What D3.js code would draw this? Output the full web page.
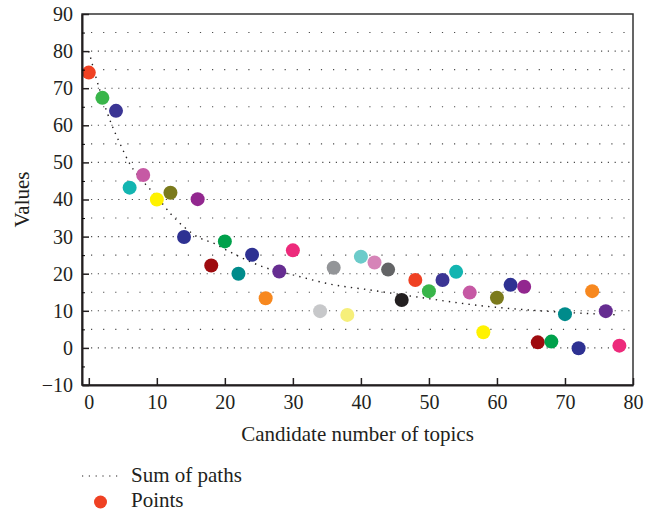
<!DOCTYPE html>
<html>
<head>
<meta charset="utf-8">
<script src="https://cdn.jsdelivr.net/npm/d3@7"></script>
<style>
  body { margin: 0; background: #fff; }
  #chart { width: 656px; height: 515px; }
  svg text { font-family: "Liberation Serif", "Times New Roman", "DejaVu Serif", serif !important; fill: #231f20; }
</style>
</head>
<body>
<div id="chart"></div>
<script>
// Candidate number of topics vs. values (one point per candidate)
const topics = [0, 2, 4, 6, 8, 10, 12, 14, 16, 18, 20, 22, 24, 26, 28, 30,
  34, 36, 38, 40, 42, 44, 46, 48, 50, 52, 54, 56, 58, 60, 62, 64, 66, 68, 70, 72, 74, 76, 78];
const values = [74.2, 67.4, 63.9, 43.2, 46.6, 40.0, 41.8, 29.9, 40.1, 22.2, 28.7, 20.0, 25.1, 13.4, 20.6, 26.3,
  9.9, 21.6, 8.9, 24.6, 23.0, 21.1, 12.9, 18.3, 15.3, 18.3, 20.5, 14.9, 4.2, 13.5, 17.0, 16.5, 1.5, 1.7, 9.1, -0.1, 15.3, 9.9, 0.6];
const pointColors = ["#ef4123", "#39b54a", "#3b3594", "#13b5b1", "#c659a4", "#fff200", "#7b7a1c", "#2e3192",
  "#92278f", "#9e0b0f", "#00a14b", "#008b8b", "#2e3192", "#f7881f", "#662d91", "#ed2a7b",
  "#c7c8ca", "#939598", "#f6ef7a", "#6ccbca", "#d684b8", "#636466", "#231f20",
  "#ef4123", "#39b54a", "#3b3594", "#13b5b1", "#c659a4", "#fff200", "#7b7a1c", "#2e3192",
  "#92278f", "#9e0b0f", "#00a14b", "#008b8b", "#2e3192", "#f7881f", "#662d91", "#ed2a7b"];

// "Sum of paths" dotted curve
const pathX = [0, 1.2, 2.4, 3.4, 4.6, 6, 8.2, 10, 12, 14, 16, 18.5, 20, 26, 30, 36, 41, 48, 58, 68, 78];
const pathY = [80, 72, 65, 60, 55, 49.7, 44.4, 40.8, 36.2, 32.6, 29.9, 28.1, 26.6, 21.6, 19.7, 17, 15.7, 13.8, 11.3, 9.8, 8.9];

const xTicks = [0, 10, 20, 30, 40, 50, 60, 70, 80];
const yTicks = [-10, 0, 10, 20, 30, 40, 50, 60, 70, 80, 90];
const gridVals = d3.range(0, 90, 5);

const W = 656, H = 515;
const M = {t: 14, r: 23, b: 130, l: 82};
const FONT = '"Liberation Serif", "Times New Roman", "DejaVu Serif", serif';

const svg = d3.select('#chart').append('svg').attr('width', W).attr('height', H);

const x = d3.scaleLinear().domain([-1, 80]).range([M.l, W - M.r]);
const y = d3.scaleLinear().domain([-10, 90]).range([H - M.b, M.t]);

// dotted grid
svg.append('g').selectAll('line')
  .data(gridVals)
  .enter().append('line')
  .attr('x1', M.l + 9).attr('x2', W - M.r - 2)
  .attr('y1', d => y(d)).attr('y2', d => y(d))
  .attr('stroke', '#4d4d4d')
  .attr('stroke-width', 1.1)
  .attr('stroke-dasharray', d => d % 10 === 0 ? '1.2 5.6' : '1.2 10.9');

// sum of paths
const line = d3.line().x(d => x(d[0])).y(d => y(d[1])).curve(d3.curveMonotoneX);
svg.append('path')
  .datum(pathX.map((v, i) => [v, pathY[i]]))
  .attr('d', line)
  .attr('fill', 'none')
  .attr('stroke', '#231f20')
  .attr('stroke-width', 1.4)
  .attr('stroke-dasharray', '1.4 5.2');

// points
svg.append('g').selectAll('circle')
  .data(topics)
  .enter().append('circle')
  .attr('cx', d => x(d))
  .attr('cy', (d, i) => y(values[i]))
  .attr('r', 7)
  .attr('fill', (d, i) => pointColors[i]);

// frame
svg.append('rect')
  .attr('x', M.l).attr('y', M.t)
  .attr('width', W - M.r - M.l).attr('height', H - M.b - M.t)
  .attr('fill', 'none').attr('stroke', '#333').attr('stroke-width', 1.5);

// axes with inward ticks
const xAxis = svg.append('g')
  .attr('transform', `translate(0,${H - M.b})`)
  .call(d3.axisBottom(x).tickValues(xTicks).tickSizeInner(-7).tickSizeOuter(0).tickPadding(10));
const yAxis = svg.append('g')
  .attr('transform', `translate(${M.l},0)`)
  .call(d3.axisLeft(y).tickValues(yTicks).tickSizeInner(-7).tickSizeOuter(0).tickPadding(9)
    .tickFormat(d => d < 0 ? '\u2212' + Math.abs(d) : d));
svg.append('g')
  .attr('transform', `translate(${M.l},0)`)
  .call(d3.axisLeft(y).tickValues(d3.range(-5, 90, 10)).tickSize(-3).tickFormat(''))
  .call(g => g.select('.domain').remove());

[xAxis, yAxis].forEach(g => {
  g.attr('font-family', FONT).attr('font-size', 20);
  g.select('.domain').attr('stroke', '#231f20').attr('stroke-width', 2);
  g.selectAll('.tick line').attr('stroke', '#231f20').attr('stroke-width', 1.5);
  g.selectAll('.tick text').attr('fill', '#231f20');
});

// axis titles
svg.append('text')
  .attr('x', (M.l + W - M.r) / 2).attr('y', 441)
  .attr('text-anchor', 'middle').attr('font-size', 21)
  .text('Candidate number of topics');
svg.append('text')
  .attr('transform', `translate(29,${(M.t + H - M.b) / 2}) rotate(-90)`)
  .attr('text-anchor', 'middle').attr('font-size', 21)
  .text('Values');

// legend
const leg = svg.append('g');
leg.append('line')
  .attr('x1', 82).attr('x2', 118).attr('y1', 476).attr('y2', 476)
  .attr('stroke', '#231f20').attr('stroke-width', 1.2).attr('stroke-dasharray', '1.2 5.6');
leg.append('text').attr('x', 131).attr('y', 482).attr('font-size', 21).text('Sum of paths');
leg.append('circle').attr('cx', 100.5).attr('cy', 502).attr('r', 6.5).attr('fill', pointColors[0]);
leg.append('text').attr('x', 131).attr('y', 507).attr('font-size', 21).text('Points');
</script>
</body>
</html>
